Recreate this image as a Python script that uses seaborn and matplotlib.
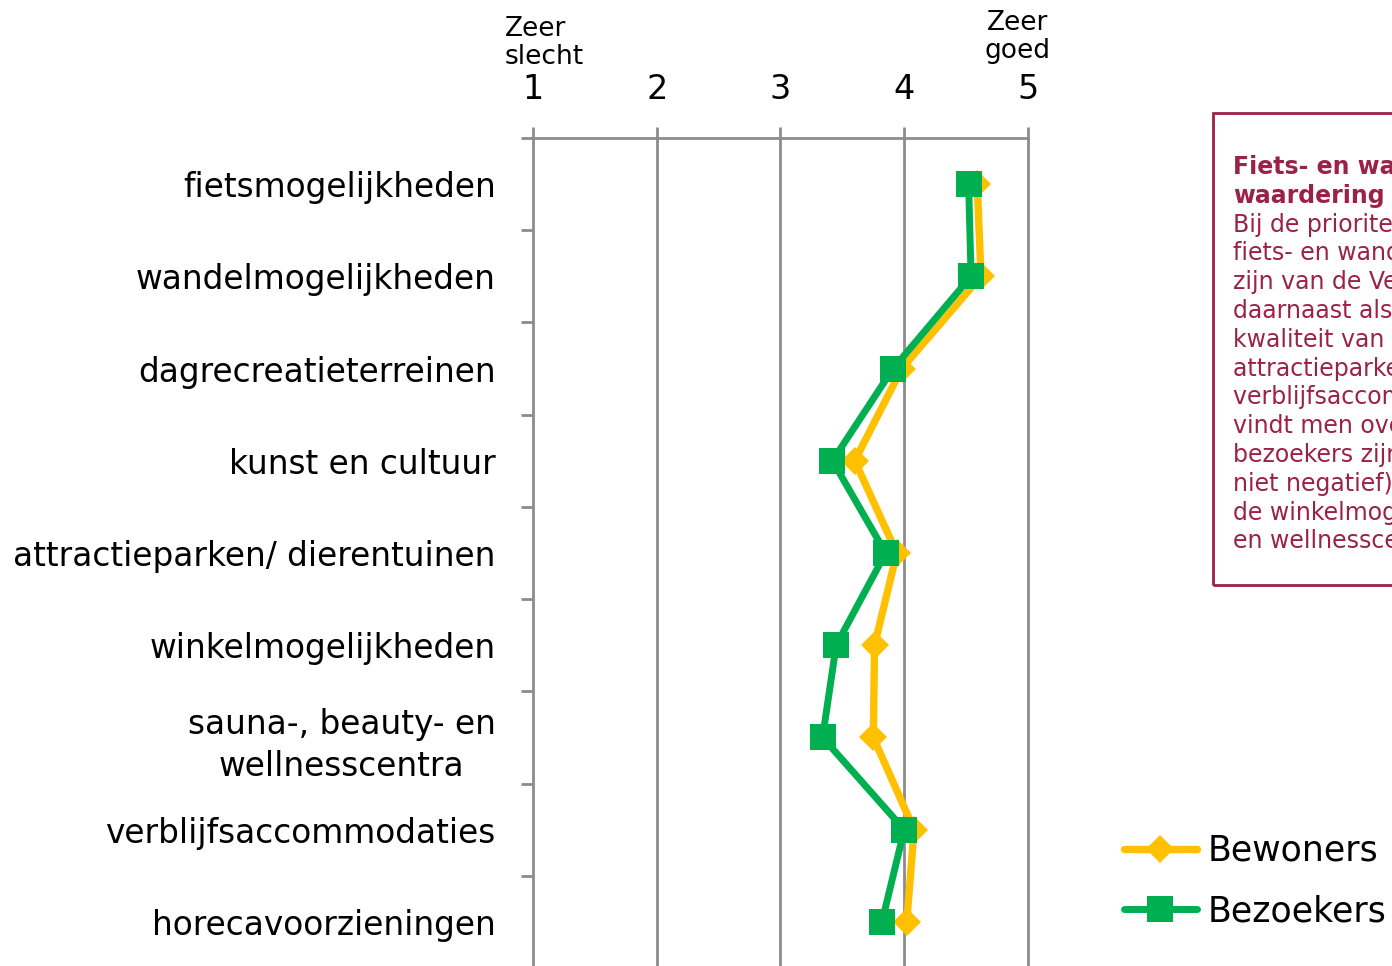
import numpy as np
import pandas as pd
import matplotlib
matplotlib.use("Agg")
import matplotlib.pyplot as plt
from matplotlib.patches import Rectangle
import seaborn as sns

# data
categorieen = [
    "fietsmogelijkheden",
    "wandelmogelijkheden",
    "dagrecreatieterreinen",
    "kunst en cultuur",
    "attractieparken/ dierentuinen",
    "winkelmogelijkheden",
    "sauna-, beauty- en\nwellnesscentra",
    "verblijfsaccommodaties",
    "horecavoorzieningen",
]
bewoners = [4.59, 4.62, 3.98, 3.60, 3.94, 3.76, 3.75, 4.08, 4.02]
bezoekers = [4.52, 4.54, 3.91, 3.42, 3.85, 3.45, 3.34, 4.00, 3.82]
schaal = [1, 2, 3, 4, 5]

kader_regels = [
    ("Fiets- en wandelmogelijkheden krijgen hoogste", True),
    ("waardering", True),
    ("Bij de prioriteiten van de bewoners staan de", False),
    ("fiets- en wandelmogelijkheden bovenaan. Dit", False),
    ("zijn van de Veluwe de sterkste punten. Ook", False),
    ("daarnaast als positief beoordeeld wordt de", False),
    ("kwaliteit van de dagrecreatieterreinen,", False),
    ("attractieparken/ dierentuinen en de", False),
    ("verblijfsaccommodaties. Minder positief", False),
    ("vindt men over het algemeen (met name", False),
    ("bezoekers zijn kritischer, maar zeker", False),
    ("niet negatief) de kunst en cultuur,", False),
    ("de winkelmogelijkheden en de sauna-, beauty-", False),
    ("en wellnesscentra.", False),
]

GEEL = "#FFC000"
GROEN = "#00B050"
GRIJS = "#8C8C8C"
KADER = "#9B2246"

sns.set_style("white")
plt.rcParams["font.family"] = ["DejaVu Sans"]
plt.rcParams["text.color"] = "black"
plt.rcParams["xtick.color"] = "black"
plt.rcParams["ytick.color"] = "black"

W, H = 1392, 966
fig = plt.figure(figsize=(W / 100, H / 100), dpi=100)
ax = fig.add_axes([533 / W, (H - 968) / H, 495 / W, 830 / H])

pos = np.arange(len(categorieen))
df = pd.DataFrame({"pos": np.concatenate([pos, pos]),
                   "score": bewoners + bezoekers,
                   "groep": ["Bewoners"] * len(pos) + ["Bezoekers"] * len(pos)})

sns.lineplot(data=df[df.groep == "Bewoners"], x="score", y="pos", sort=False,
             orient="y", color=GEEL, lw=5.3, marker="D", markersize=14,
             markeredgewidth=0, label="Bewoners", ax=ax, zorder=3)
sns.lineplot(data=df[df.groep == "Bezoekers"], x="score", y="pos", sort=False,
             orient="y", color=GROEN, lw=5, marker="s", markersize=19,
             markeredgewidth=0, label="Bezoekers", ax=ax, zorder=4)

ax.set_xlim(1, 5)
ax.set_ylim(len(categorieen) - 0.5, -0.5)
ax.set_xlabel("")
ax.set_ylabel("")

# x-as bovenaan
ax.xaxis.tick_top()
ax.set_xticks(schaal)
ax.set_xticklabels([str(s) for s in schaal], fontsize=24)
ax.tick_params(axis="x", length=8, width=2, color=GRIJS, labelcolor="black",
               pad=15, top=True, bottom=False)
for s in schaal[1:]:
    ax.axvline(s, color=GRIJS, lw=2, zorder=1, clip_on=False)

# y-as categorieen
ax.set_yticks(pos)
ax.set_yticklabels(categorieen, fontsize=23.6, multialignment="center",
                   linespacing=1.35)
ax.tick_params(axis="y", length=0, pad=27, labelcolor="black")
ax.set_yticks(np.arange(len(categorieen)) - 0.5, minor=True)
ax.tick_params(axis="y", which="minor", length=9, width=2, color=GRIJS, left=True)

for kant in ["top", "left"]:
    ax.spines[kant].set_color(GRIJS)
    ax.spines[kant].set_linewidth(2)
for kant in ["right", "bottom"]:
    ax.spines[kant].set_visible(False)

fig.text(505 / W, 1 - 43 / H, "Zeer\nslecht", fontsize=19, ha="left", va="center",
         linespacing=1.15)
fig.text(1018 / W, 1 - 37 / H, "Zeer\ngoed", fontsize=19, ha="center", va="center",
         linespacing=1.15)

# legenda
ax.legend(loc="center left", bbox_to_anchor=(1124 / W, 1 - 881 / H),
          bbox_transform=fig.transFigure, frameon=False, fontsize=25,
          handlelength=2.1, handletextpad=0.3, labelspacing=0.75,
          borderaxespad=0, borderpad=0)

# tekstkader rechts
fig.patches.append(Rectangle((1213 / W, 1 - 585 / H), 300 / W, 472 / H,
                             transform=fig.transFigure, fill=False,
                             edgecolor=KADER, lw=2))
for i, (regel, vet) in enumerate(kader_regels):
    fig.text(1233 / W, 1 - (167 + i * 28.8) / H, regel, fontsize=17,
             color=KADER, fontweight="bold" if vet else "normal",
             ha="left", va="center")

fig.savefig("out.png", dpi=100)
